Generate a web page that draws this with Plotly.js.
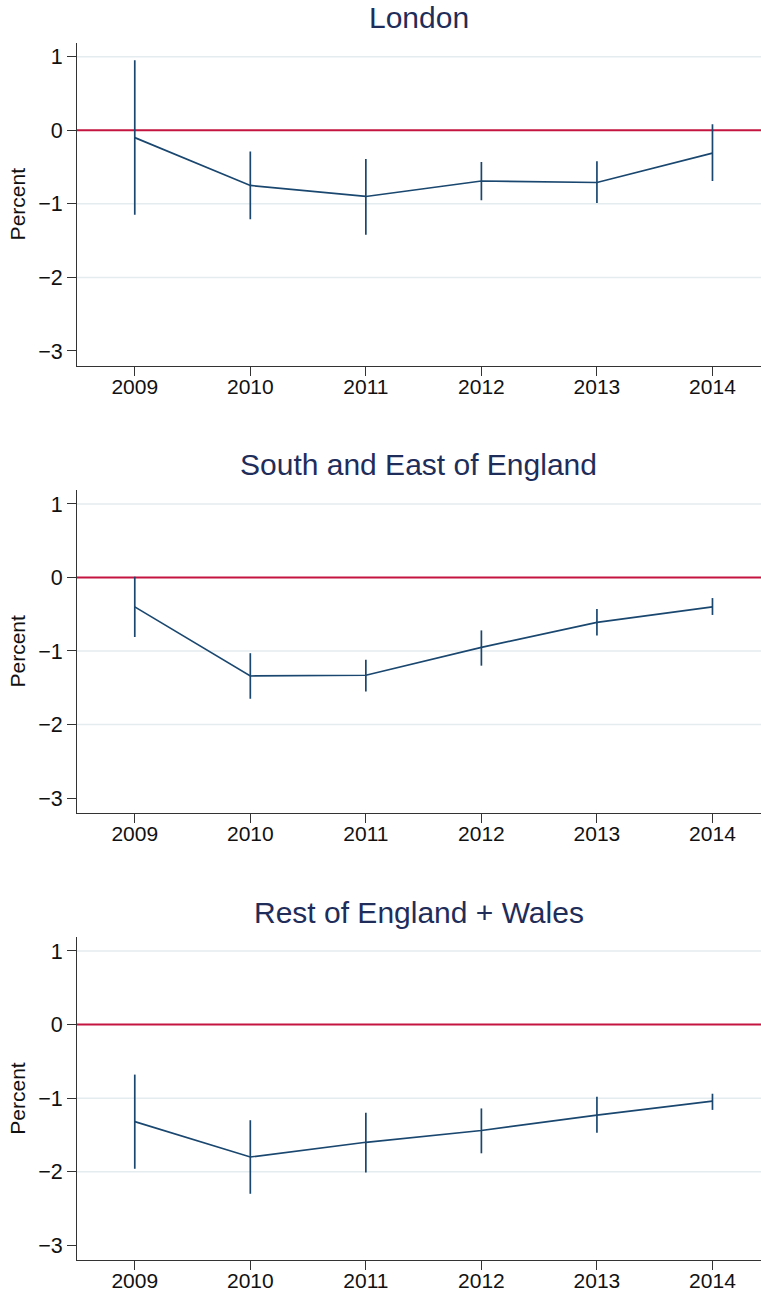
<!DOCTYPE html>
<html>
<head>
<meta charset="utf-8">
<script src="https://cdn.plot.ly/plotly-3.0.1.min.js"></script>
<style>html,body{margin:0;padding:0;background:#fff;}#chart{width:761px;height:1293px;}</style>
</head>
<body>
<div id="chart"></div>
<script>
// ---- data ----
const years = [2009, 2010, 2011, 2012, 2013, 2014];
const panelTitles = ["London", "South and East of England", "Rest of England + Wales"];

const londonEst   = [-0.10, -0.75, -0.90, -0.69, -0.71, -0.31];
const londonHigh  = [ 0.95, -0.29, -0.39, -0.43, -0.42,  0.08];
const londonLow   = [-1.15, -1.21, -1.42, -0.95, -0.99, -0.69];

const southEst    = [-0.40, -1.34, -1.33, -0.95, -0.61, -0.40];
const southHigh   = [ 0.01, -1.03, -1.12, -0.72, -0.43, -0.28];
const southLow    = [-0.81, -1.65, -1.55, -1.20, -0.79, -0.51];

const restEst     = [-1.32, -1.80, -1.60, -1.44, -1.23, -1.04];
const restHigh    = [-0.68, -1.30, -1.20, -1.14, -0.98, -0.94];
const restLow     = [-1.96, -2.30, -2.01, -1.75, -1.47, -1.16];

const yTickVals = [1, 0, -1, -2, -3];
const gridVals = [1, -1, -2];
const referenceValue = 0;

// ---- styling / layout ----
const W = 761, H = 1293;
const FONT = "Liberation Sans, Arial, sans-serif";
const lineColor = "#1a476f";
const refColor = "#c4143f";
const titleColor = "#1f2d5a";
const plotLeft = 77;
// plot tops / bottoms in pixels
const panelPx = [[42.7, 365.7], [490, 812.7], [937, 1260]];

const series = [
  [londonEst, londonHigh, londonLow],
  [southEst, southHigh, southLow],
  [restEst, restHigh, restLow]
];

const data = [];
const layout = {
  width: W, height: H,
  margin: {l: 0, r: 0, t: 0, b: 0},
  paper_bgcolor: "#fff", plot_bgcolor: "#fff",
  showlegend: false,
  font: {family: FONT, color: "#000"},
  shapes: [], annotations: []
};

series.forEach((s, i) => {
  const k = i === 0 ? "" : String(i + 1);
  const [est, hi, lo] = s;
  data.push({
    type: "scatter", mode: "lines",
    x: years, y: est,
    xaxis: "x" + k, yaxis: "y" + k,
    line: {color: lineColor, width: 1.7},
    error_y: {
      type: "data", symmetric: false,
      array: hi.map((v, j) => v - est[j]),
      arrayminus: est.map((v, j) => v - lo[j]),
      color: lineColor, thickness: 1.7, width: 0
    },
    hoverinfo: "skip"
  });
  const [top, bot] = panelPx[i];
  const dom = [1 - bot / H, 1 - top / H];
  layout["xaxis" + k] = {
    domain: [plotLeft / W, 1],
    anchor: "y" + k,
    range: [2008.5, 2014.42],
    tickvals: years, ticktext: years.map(String),
    ticks: "outside", ticklen: 9, tickwidth: 1, tickcolor: "#333",
    ticklabelstandoff: -7,
    showline: true, linecolor: "#333", linewidth: 1,
    showgrid: false, zeroline: false,
    tickfont: {family: FONT, size: 21, color: "#111"},
    fixedrange: true
  };
  layout["yaxis" + k] = {
    domain: dom,
    anchor: "x" + k,
    range: [-3.2, 1.19],
    tickvals: yTickVals,
    ticks: "outside", ticklen: 9, tickwidth: 1, tickcolor: "#333",
    showline: true, linecolor: "#333", linewidth: 1,
    showgrid: false, zeroline: false,
    tickfont: {family: FONT, size: 21.5, color: "#111"},
    title: {text: "Percent", font: {family: FONT, size: 21, color: "#111"}, standoff: 6},
    fixedrange: true
  };
  gridVals.forEach(g => {
    layout.shapes.push({
      type: "line", layer: "below",
      xref: "x" + k + " domain", yref: "y" + k,
      x0: 0, x1: 1, y0: g, y1: g,
      line: {color: "#e4ecef", width: 1.5}
    });
  });
  layout.shapes.push({
    type: "line", layer: "below",
    xref: "x" + k + " domain", yref: "y" + k,
    x0: 0, x1: 1, y0: referenceValue, y1: referenceValue,
    line: {color: refColor, width: 2}
  });
  layout.annotations.push({
    text: panelTitles[i],
    xref: "paper", yref: "paper",
    x: (plotLeft / W + 1) / 2, xanchor: "center",
    y: 1 - (top - 25) / H, yanchor: "middle",
    showarrow: false,
    font: {family: FONT, size: 30, color: titleColor}
  });
});

Plotly.newPlot("chart", data, layout, {staticPlot: true, displayModeBar: false});
</script>
</body>
</html>
